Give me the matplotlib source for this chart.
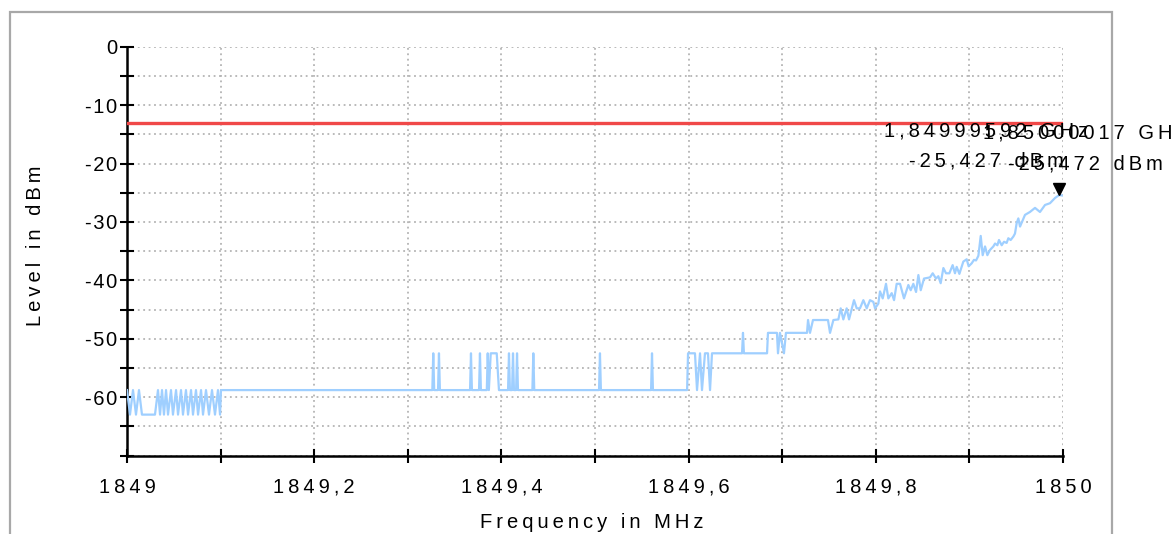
import matplotlib
matplotlib.use("Agg")
import matplotlib.pyplot as plt
import matplotlib.ticker as mticker
import matplotlib.transforms as mtransforms
from matplotlib.patches import Rectangle

plt.rcParams['font.family'] = ['Liberation Sans', 'DejaVu Sans']
plt.rcParams['axes.unicode_minus'] = False

# frequency offset above 1849 MHz, level in dBm
start_mhz = 1849.0
trace_df = [
    # noisy part at the start
    0.0000, 0.0032, 0.0064, 0.0096, 0.0128, 0.0160, 0.0224, 0.0299, 0.0331, 0.0353,
    0.0374, 0.0395, 0.0417, 0.0438, 0.0470, 0.0491, 0.0524, 0.0545, 0.0577, 0.0598,
    0.0630, 0.0652, 0.0684, 0.0705, 0.0737, 0.0759, 0.0791, 0.0812, 0.0844, 0.0876,
    0.0908, 0.0940, 0.0972, 0.0994, 0.1004,
    # flat floor with single spikes
    0.3262, 0.3272, 0.3282, 0.3323, 0.3333, 0.3343, 0.3665, 0.3675, 0.3685,
    0.3761, 0.3771, 0.3781, 0.3844, 0.3854, 0.3866, 0.3886, 0.3950, 0.3974,
    0.4071, 0.4081, 0.4091, 0.4114, 0.4124, 0.4134, 0.4157, 0.4167, 0.4177,
    0.4331, 0.4341, 0.4351, 0.5043, 0.5053, 0.5063, 0.5599, 0.5609, 0.5619,
    0.5984, 0.5994, 0.6068, 0.6090, 0.6122, 0.6143, 0.6175, 0.6207, 0.6229, 0.6250,
    # steps
    0.6571, 0.6581, 0.6591, 0.6838, 0.6848, 0.6944, 0.6955, 0.6976, 0.7019, 0.7040,
    0.7265, 0.7276, 0.7297, 0.7329, 0.7489, 0.7511,
    # rising edge
    0.7547, 0.7600, 0.7625, 0.7653, 0.7689, 0.7714, 0.7767, 0.7796, 0.7831, 0.7867,
    0.7903, 0.7938, 0.7974, 0.7992, 0.8027, 0.8045, 0.8074, 0.8109, 0.8134, 0.8170,
    0.8195, 0.8223, 0.8259, 0.8301, 0.8348, 0.8373, 0.8401, 0.8430, 0.8455, 0.8480,
    0.8515, 0.8579, 0.8608, 0.8643, 0.8668, 0.8693, 0.8722, 0.8750, 0.8786, 0.8821,
    0.8846, 0.8864, 0.8893, 0.8935, 0.8971, 0.8992, 0.9024, 0.9049, 0.9071, 0.9096,
    0.9121, 0.9142, 0.9167, 0.9192, 0.9220, 0.9256, 0.9274, 0.9299, 0.9316, 0.9345,
    0.9370, 0.9398, 0.9416, 0.9441, 0.9470, 0.9487, 0.9505, 0.9523, 0.9541, 0.9594,
    0.9647, 0.9701, 0.9754, 0.9808, 0.9861, 0.9915, 0.9960, 1.0000,
]
trace_dbm = [
    -58.8, -63.0, -58.8, -63.0, -58.8, -63.0, -63.0, -63.0, -58.8, -63.0,
    -58.8, -63.0, -58.8, -63.0, -58.8, -63.0, -58.8, -63.0, -58.8, -63.0,
    -58.8, -63.0, -58.8, -63.0, -58.8, -63.0, -58.8, -63.0, -58.8, -63.0,
    -58.8, -63.0, -58.8, -63.0, -58.8,
    -58.8, -52.5, -58.8, -58.8, -52.5, -58.8, -58.8, -52.5, -58.8,
    -58.8, -52.5, -58.8, -58.8, -52.5, -58.8, -52.5, -52.5, -58.8,
    -58.8, -52.5, -58.8, -58.8, -52.5, -58.8, -58.8, -52.5, -58.8,
    -58.8, -52.5, -58.8, -58.8, -52.5, -58.8, -58.8, -52.5, -58.8,
    -58.8, -52.5, -52.5, -58.8, -52.5, -58.8, -52.5, -52.5, -58.8, -52.5,
    -52.5, -49.0, -52.5, -52.5, -49.0, -49.0, -52.5, -49.0, -52.5, -49.0,
    -49.0, -46.8, -49.0, -46.8, -46.8, -49.0,
    -46.8, -46.7, -44.8, -46.7, -44.8, -46.7, -43.4, -44.8, -44.8, -43.4,
    -44.8, -43.4, -43.7, -44.8, -44.0, -41.9, -43.1, -40.6, -43.1, -42.2,
    -43.4, -40.6, -40.6, -43.1, -40.8, -41.7, -40.6, -42.0, -39.1, -41.7,
    -39.7, -39.5, -38.8, -39.7, -39.3, -40.5, -37.9, -38.8, -38.8, -37.4,
    -38.8, -37.7, -38.9, -36.8, -36.4, -37.6, -37.1, -36.5, -36.6, -35.8,
    -32.4, -35.7, -34.2, -35.7, -34.8, -34.2, -33.7, -34.0, -33.1, -34.0,
    -33.4, -33.6, -32.8, -33.1, -32.5, -32.0, -30.2, -29.4, -30.8, -28.8,
    -28.3, -27.6, -28.3, -27.1, -26.8, -25.9, -25.4, -25.5,
]

limit_dbm = -13.0

marker_mhz = 1849.99592
marker_dbm = -25.427
labels_a = ["1,84999592 GHz", "-25,427 dBm"]
labels_b = ["1,85000017 GHz", "-25,472 dBm"]

x_ticks = [1849.0, 1849.2, 1849.4, 1849.6, 1849.8, 1850.0]
y_ticks = [0, -10, -20, -30, -40, -50, -60]


def spaced(s, gap="\u2009"):
    return gap.join(s)


def x_fmt(v, pos):
    return spaced(("%g" % round(v, 3)).replace(".", ","))


def y_fmt(v, pos):
    return spaced("%d" % round(v), "\u200a")


fig = plt.figure(figsize=(11.71, 5.34), dpi=100)
fig.patches.append(Rectangle((10 / 1171, -0.1), 1102 / 1171, 1.1 - 12 / 534,
                             transform=fig.transFigure, fill=False,
                             edgecolor="#a8a8a8", linewidth=1.6))
ax = fig.add_axes([127 / 1171, 1 - 455.5 / 534, 936 / 1171, 408.8 / 534])

freq = [start_mhz + d for d in trace_df]
ax.plot(freq, trace_dbm, color="#9fcfff", linewidth=1.6, zorder=3)
ax.axhline(limit_dbm, color="#f04848", linewidth=2.4, zorder=4)

mk_tr = mtransforms.offset_copy(ax.transData, fig=fig, x=0, y=4.5, units="points")
ax.plot([marker_mhz], [marker_dbm], marker="v", color="black", markersize=9,
        linestyle="none", transform=mk_tr, zorder=5, clip_on=False)

ax.set_xlim(1849, 1850)
ax.set_ylim(-70, 0)
ax.xaxis.set_major_locator(mticker.FixedLocator(x_ticks))
ax.xaxis.set_minor_locator(mticker.MultipleLocator(0.1))
ax.yaxis.set_major_locator(mticker.FixedLocator(y_ticks))
ax.yaxis.set_minor_locator(mticker.MultipleLocator(5))
ax.xaxis.set_major_formatter(mticker.FuncFormatter(x_fmt))
ax.yaxis.set_major_formatter(mticker.FuncFormatter(y_fmt))

ax.grid(True, which="both", linestyle=(0, (1, 2)), color="#b4b4b4", linewidth=1.3)
ax.set_axisbelow(True)
for side in ["top", "right"]:
    ax.spines[side].set_visible(False)
for side in ["left", "bottom"]:
    ax.spines[side].set_linewidth(1.8)
ax.tick_params(which="both", direction="inout", length=10, width=1.5)
ax.tick_params(axis="x", which="major", pad=11, labelsize=14.5)
ax.tick_params(axis="y", which="major", pad=2, labelsize=14.5)

ax.set_xlabel(spaced("Frequency in MHz"), fontsize=14.5, va="center")
ax.set_ylabel(spaced("Level in dBm"), fontsize=14.5, va="center")
ax.xaxis.set_label_coords(0.497, -(522 - 455.5) / 408.8)
ax.yaxis.set_label_coords((35 - 127) / 936, (455.5 - 246) / 408.8)

for lines, xc, dy in [(labels_a, 1849.918, 0.0), (labels_b, 1850.0235, -0.4)]:
    ax.text(xc, -14.4 + dy, spaced(lines[0]), ha="center", va="center",
            fontsize=14.5, clip_on=False, zorder=6)
    ax.text(xc, -19.6 + dy, spaced(lines[1]), ha="center", va="center",
            fontsize=14.5, clip_on=False, zorder=6)

fig.savefig("out.png", dpi=100)
